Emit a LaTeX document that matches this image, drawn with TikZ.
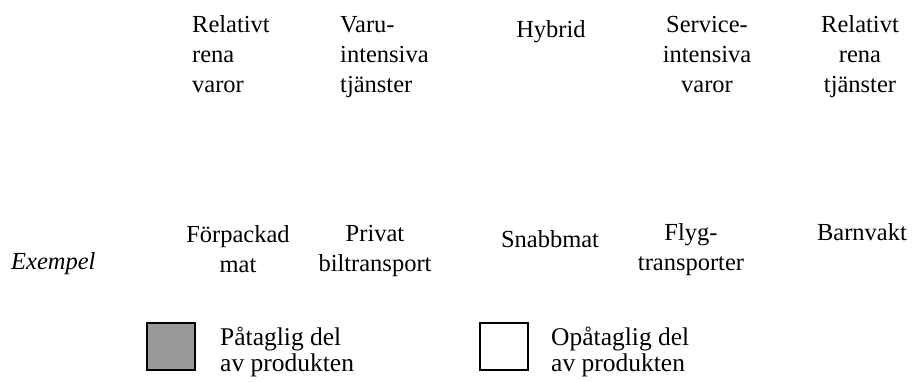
\documentclass[tikz,border=0pt]{standalone}
\usepackage{fontspec}
\setmainfont{Liberation Serif}
\begin{document}
\begin{tikzpicture}[x=1pt,y=-1pt,
  lbl/.style={inner sep=0pt, font=\fontsize{24.5}{30}\selectfont},
  leg/.style={inner sep=0pt, align=left, font=\fontsize{25.5}{26}\selectfont},
  legbox/.style={draw=black, line width=1.6pt, minimum width=48pt, minimum height=47pt, inner sep=0pt, anchor=north west}]
\useasboundingbox (0,0) rectangle (912,381);
% top row (base anchor = baseline of the last line)
\node[lbl, align=left, anchor=base west] (c1) at (192,92) {Relativt\\rena\\varor};
\node[lbl, align=left, anchor=base west] (c2) at (340,92) {Varu-\\intensiva\\tjänster};
\node[lbl, anchor=base] (c3) at (551,37) {Hybrid};
\node[lbl, align=center, anchor=base] (c4) at (707,92) {Service-\\intensiva\\varor};
\node[lbl, align=center, anchor=base] (c5) at (860,92) {Relativt\\rena\\tjänster};
% examples
\node[lbl, anchor=base west] (ex) at (11,269) {\itshape Exempel};
\node[lbl, align=center, anchor=base] (e1) at (238,272) {Förpackad\\mat};
\node[lbl, align=center, anchor=base] (e2) at (375,271) {Privat\\biltransport};
\node[lbl, anchor=base] (e3) at (550,247) {Snabbmat};
\node[lbl, align=center, anchor=base] (e4) at (691,270) {Flyg-\\transporter};
\node[lbl, anchor=base] (e5) at (862,240) {Barnvakt};
% legend
\node[legbox, fill={rgb,255:red,153;green,153;blue,153}] (g1) at (146,322) {};
\node[leg, anchor=base west] (t1) at (220,371) {Påtaglig del\\av produkten};
\node[legbox, fill=white] (g2) at (479,322) {};
\node[leg, anchor=base west] (t2) at (551,371) {Opåtaglig del\\av produkten};
\end{tikzpicture}
\end{document}
